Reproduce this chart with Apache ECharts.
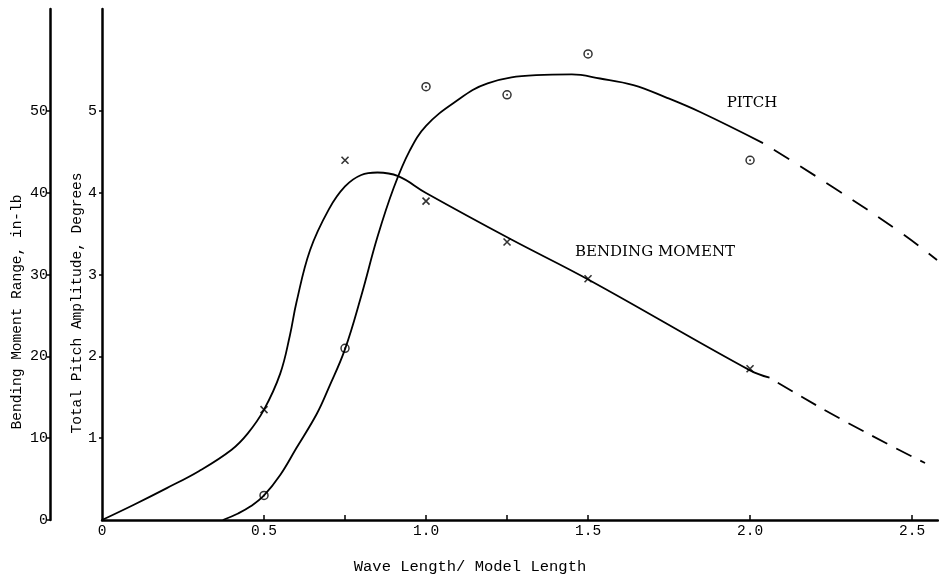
<!DOCTYPE html>
<html>
<head>
<meta charset="utf-8">
<script src="https://cdn.jsdelivr.net/npm/echarts@6/dist/echarts.min.js"></script>
<style>
  html, body { margin: 0; padding: 0; background: #fff; }
  #chart { width: 939px; height: 577px; }
</style>
</head>
<body>
<div id="chart"></div>
<script>
// axis ticks / labels
const xTickValues = [0.5, 0.75, 1.0, 1.25, 1.5, 2.0, 2.5];
const xLabelValues = [0, 0.5, 1.0, 1.5, 2.0, 2.5];
const pitchTickValues = [1, 2, 3, 4, 5];
const momentTickValues = [0, 10, 20, 30, 40, 50];

// measured points (wave length / model length, value)
const pitchPoints = [[0.5, 0.3], [0.75, 2.1], [1.0, 5.3], [1.25, 5.2], [1.5, 5.7], [2.0, 4.4]];
const momentPoints = [[0.5, 13.5], [0.75, 44], [1.0, 39], [1.25, 34], [1.5, 29.5], [2.0, 18.5]];

// faired curves
const pitchCurve = [
  [0.373, 0], [0.42, 0.08], [0.46, 0.17], [0.5, 0.3], [0.55, 0.55], [0.6, 0.88],
  [0.663, 1.3], [0.7, 1.62], [0.75, 2.09], [0.8, 2.74], [0.85, 3.46], [0.9, 4.06],
  [0.95, 4.52], [1.0, 4.82], [1.085, 5.1], [1.19, 5.34], [1.34, 5.44], [1.45, 5.45],
  [1.537, 5.4], [1.64, 5.32], [1.74, 5.17], [1.846, 4.99], [2.04, 4.61]
];
const pitchExtension = [[2.04, 4.61], [2.256, 4.07], [2.463, 3.52], [2.577, 3.18]];

const momentCurve = [
  [0, 0], [0.1, 1.9], [0.2, 3.9], [0.3, 6.0], [0.4, 8.6], [0.45, 10.6], [0.5, 13.5],
  [0.55, 17.9], [0.58, 22.6], [0.6, 26.6], [0.642, 33], [0.7, 38.0], [0.75, 40.8],
  [0.8, 42.2], [0.85, 42.5], [0.914, 42.05], [1.0, 40.0], [1.259, 34.4], [1.506, 29.3],
  [2.0, 18.3], [2.06, 17.4]
];
const momentExtension = [[2.06, 17.4], [2.287, 12.2], [2.54, 6.97]];

const mono = '"Liberation Mono", "DejaVu Sans Mono", monospace';
const serif = '"DejaVu Serif", "Liberation Serif", serif';
const ink = '#000';

const chart = echarts.init(document.getElementById('chart'));

const curveStyle = { color: ink, width: 1.8 };

chart.setOption({
  animation: false,
  backgroundColor: '#fff',
  grid: { left: 102, right: 1, top: 9, bottom: 57 },
  xAxis: {
    type: 'value',
    min: 0,
    max: 2.58,
    splitLine: { show: false },
    axisLine: { onZero: false, lineStyle: { color: ink, width: 2.5 } },
    axisTick: { customValues: xTickValues, inside: true, length: 5, lineStyle: { color: ink, width: 1.5 } },
    axisLabel: {
      customValues: xLabelValues,
      formatter: v => (v === 0 ? '0' : v.toFixed(1)),
      margin: 4,
      color: ink,
      fontFamily: mono,
      fontSize: 14.5
    }
  },
  yAxis: [
    {
      type: 'value',
      position: 'left',
      min: 0,
      max: 6.25,
      splitLine: { show: false },
      axisLine: { show: true, lineStyle: { color: ink, width: 2.5 } },
      axisTick: { show: true, customValues: pitchTickValues, length: 3, lineStyle: { color: ink, width: 1.5 } },
      axisLabel: { customValues: pitchTickValues, margin: 5, color: ink, fontFamily: mono, fontSize: 15 }
    },
    {
      type: 'value',
      position: 'left',
      offset: 52,
      min: 0,
      max: 62.5,
      splitLine: { show: false },
      axisLine: { show: true, onZero: false, lineStyle: { color: ink, width: 2.5 } },
      axisTick: { show: true, customValues: momentTickValues, length: 3, lineStyle: { color: ink, width: 1.5 } },
      axisLabel: { customValues: momentTickValues, margin: 2, color: ink, fontFamily: mono, fontSize: 15 }
    }
  ],
  graphic: [
    {
      type: 'text', x: 17, y: 312, rotation: Math.PI / 2,
      style: { text: 'Bending Moment Range, in-lb', fill: ink, font: '14.5px ' + mono, align: 'center', verticalAlign: 'middle' }
    },
    {
      type: 'text', x: 77, y: 303, rotation: Math.PI / 2,
      style: { text: 'Total Pitch Amplitude, Degrees', fill: ink, font: '14.5px ' + mono, align: 'center', verticalAlign: 'middle' }
    },
    {
      type: 'text', x: 470, y: 567,
      style: { text: 'Wave Length/ Model Length', fill: ink, font: '15.5px ' + mono, align: 'center', verticalAlign: 'middle' }
    },
    {
      type: 'text', x: 752, y: 103,
      style: { text: 'PITCH', fill: ink, font: '15px ' + serif, align: 'center', verticalAlign: 'middle' }
    },
    {
      type: 'text', x: 575, y: 252,
      style: { text: 'BENDING MOMENT', fill: ink, font: '15px ' + serif, align: 'left', verticalAlign: 'middle' }
    }
  ],
  series: [
    {
      name: 'pitch', type: 'line', yAxisIndex: 0, data: pitchCurve,
      smooth: 0.4, showSymbol: false, lineStyle: curveStyle
    },
    {
      name: 'pitch ext', type: 'line', yAxisIndex: 0, data: pitchExtension,
      smooth: 0.5, showSymbol: false,
      lineStyle: { color: ink, width: 1.8, type: [18, 13], dashOffset: 18 }
    },
    {
      name: 'moment', type: 'line', yAxisIndex: 1, data: momentCurve,
      smooth: 0.4, showSymbol: false, lineStyle: curveStyle
    },
    {
      name: 'moment ext', type: 'line', yAxisIndex: 1, data: momentExtension,
      smooth: 0.5, showSymbol: false,
      lineStyle: { color: ink, width: 1.8, type: [17, 10], dashOffset: 17 }
    },
    {
      name: 'pitch pts', type: 'scatter', yAxisIndex: 0, data: pitchPoints,
      symbol: 'circle', symbolSize: 8,
      itemStyle: { color: '#fff', borderColor: ink, borderWidth: 1.5 }
    },
    {
      name: 'pitch pts dot', type: 'scatter', yAxisIndex: 0, data: pitchPoints,
      symbol: 'circle', symbolSize: 2, itemStyle: { color: ink }
    },
    {
      name: 'moment pts', type: 'scatter', yAxisIndex: 1, data: momentPoints,
      symbol: 'path://M0 0L10 10M10 0L0 10', symbolSize: 7,
      itemStyle: { color: 'transparent', borderColor: ink, borderWidth: 1.6 }
    }
  ]
});
</script>
</body>
</html>
